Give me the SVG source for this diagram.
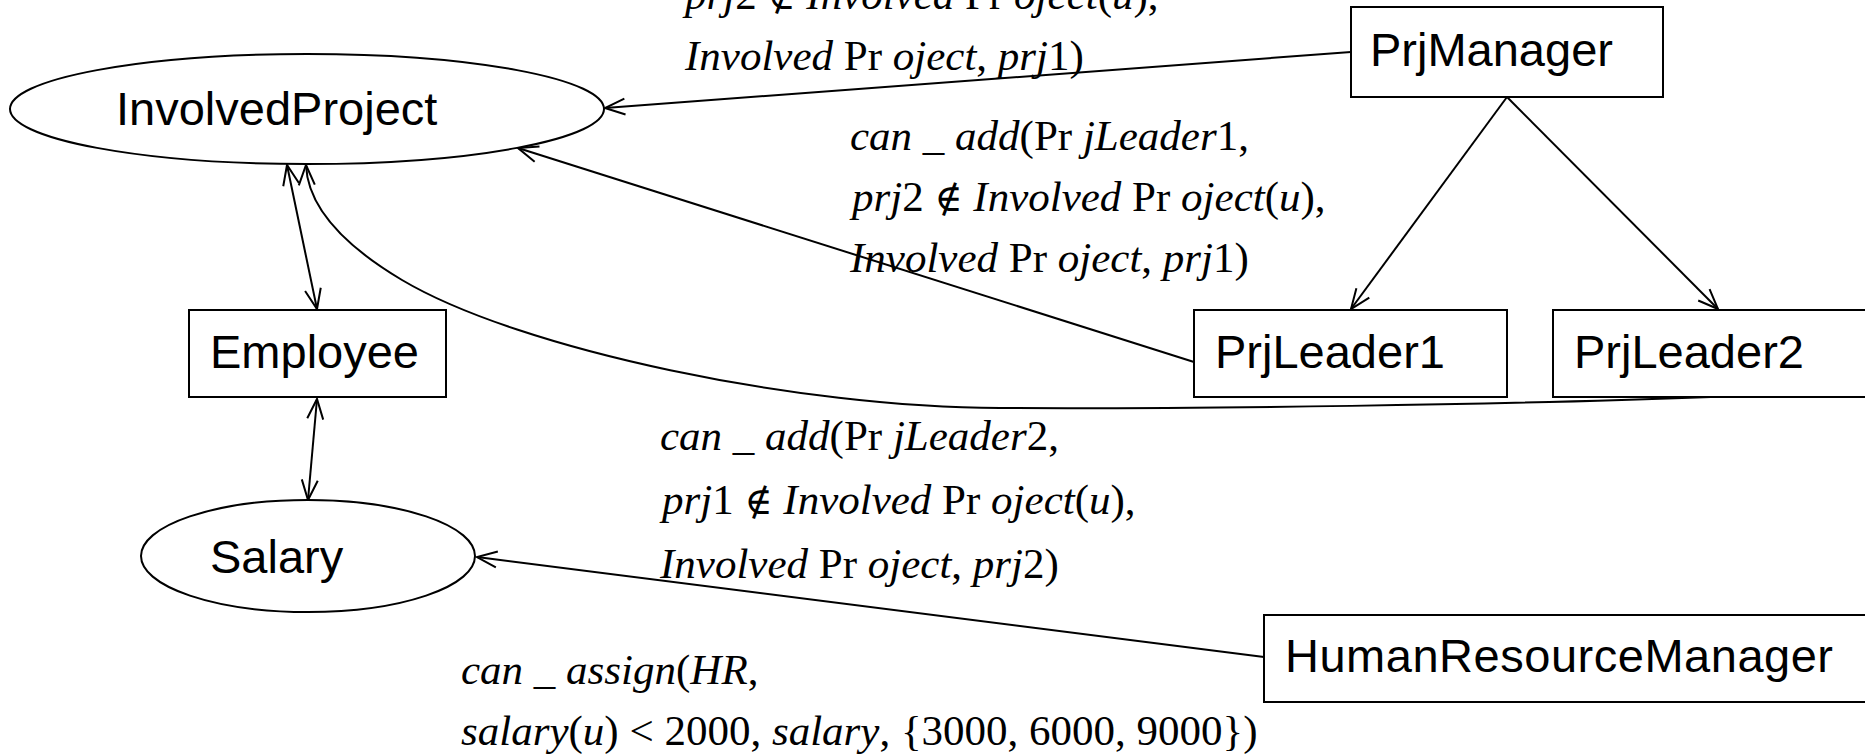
<svg xmlns="http://www.w3.org/2000/svg" width="1865" height="756" viewBox="0 0 1865 756">
  <style>
    .shape { fill: #fff; stroke: #000; stroke-width: 2; }
    .name { font-family: "Liberation Sans", Arial, sans-serif; font-size: 47px; fill: #000; }
    .edge { fill: none; stroke: #000; stroke-width: 2; }
    .math { font-family: "Liberation Serif", "DejaVu Serif", serif; font-size: 43px; fill: #000; }
    .i { font-style: italic; }
    .op { font-family: "DejaVu Sans", "DejaVu Serif", sans-serif; font-weight: 200; font-size: 38px; }
  </style>
  <defs>
    <marker id="arrow" viewBox="-24 -12 28 24" refX="0" refY="0" markerWidth="28" markerHeight="24" markerUnits="userSpaceOnUse" orient="auto-start-reverse" overflow="visible">
      <path d="M-20,-8 L0,0 L-20,8" fill="none" stroke="#000" stroke-width="2"/>
    </marker>
  </defs>
  <rect width="1865" height="756" fill="#fff"/>

  <!-- connectors -->
  <g id="connectors">
    <line class="edge" x1="1351" y1="52" x2="605" y2="108" marker-end="url(#arrow)"/>
    <line class="edge" x1="1194" y1="362" x2="518" y2="148" marker-end="url(#arrow)"/>
    <path class="edge" d="M1711,397 C1500,405 1200,409 1000,408 C800,408 520,350 402,280 C360,255 308,215 306,165" marker-end="url(#arrow)"/>
    <line class="edge" x1="317" y1="309" x2="287" y2="165" marker-start="url(#arrow)" marker-end="url(#arrow)"/>
    <line class="edge" x1="317" y1="399" x2="308" y2="500" marker-start="url(#arrow)" marker-end="url(#arrow)"/>
    <line class="edge" x1="1507" y1="97" x2="1351" y2="309" marker-end="url(#arrow)"/>
    <line class="edge" x1="1507" y1="97" x2="1718" y2="309" marker-end="url(#arrow)"/>
    <line class="edge" x1="1264" y1="657" x2="477" y2="557" marker-end="url(#arrow)"/>
  </g>

  <!-- nodes -->
  <g id="involved-project">
    <ellipse class="shape" cx="307" cy="109" rx="297" ry="55"/>
    <text class="name" x="116" y="125">InvolvedProject</text>
  </g>
  <g id="employee">
    <rect class="shape" x="189" y="310" width="257" height="87"/>
    <text class="name" x="210" y="368">Employee</text>
  </g>
  <g id="salary">
    <ellipse class="shape" cx="308" cy="556" rx="167" ry="56"/>
    <text class="name" x="210" y="573">Salary</text>
  </g>
  <g id="prj-manager">
    <rect class="shape" x="1351" y="7" width="312" height="90"/>
    <text class="name" x="1370" y="66">PrjManager</text>
  </g>
  <g id="prj-leader1">
    <rect class="shape" x="1194" y="310" width="313" height="87"/>
    <text class="name" x="1215" y="368">PrjLeader1</text>
  </g>
  <g id="prj-leader2">
    <rect class="shape" x="1553" y="310" width="330" height="87"/>
    <text class="name" x="1574" y="368">PrjLeader2</text>
  </g>
  <g id="hr-manager">
    <rect class="shape" x="1264" y="615" width="620" height="87"/>
    <text class="name" x="1285" y="672" textLength="548">HumanResourceManager</text>
  </g>

  <!-- rule labels -->
  <g id="labels" class="math">
    <text x="685" y="9"><tspan class="i">prj</tspan>2 <tspan class="op">∉</tspan> <tspan class="i">Involved</tspan> Pr <tspan class="i">oject</tspan>(<tspan class="i">u</tspan>),</text>
    <text x="685" y="70"><tspan class="i">Involved</tspan> Pr <tspan class="i">oject</tspan>, <tspan class="i">prj</tspan>1)</text>

    <text x="850" y="150"><tspan class="i">can</tspan> _ <tspan class="i">add</tspan>(Pr <tspan class="i">jLeader</tspan>1,</text>
    <text x="852" y="211"><tspan class="i">prj</tspan>2 <tspan class="op">∉</tspan> <tspan class="i">Involved</tspan> Pr <tspan class="i">oject</tspan>(<tspan class="i">u</tspan>),</text>
    <text x="850" y="272"><tspan class="i">Involved</tspan> Pr <tspan class="i">oject</tspan>, <tspan class="i">prj</tspan>1)</text>

    <text x="660" y="450"><tspan class="i">can</tspan> _ <tspan class="i">add</tspan>(Pr <tspan class="i">jLeader</tspan>2,</text>
    <text x="662" y="514"><tspan class="i">prj</tspan>1 <tspan class="op">∉</tspan> <tspan class="i">Involved</tspan> Pr <tspan class="i">oject</tspan>(<tspan class="i">u</tspan>),</text>
    <text x="660" y="578"><tspan class="i">Involved</tspan> Pr <tspan class="i">oject</tspan>, <tspan class="i">prj</tspan>2)</text>

    <text x="461" y="684"><tspan class="i">can</tspan> _ <tspan class="i">assign</tspan>(<tspan class="i">HR</tspan>,</text>
    <text x="461" y="745"><tspan class="i">salary</tspan>(<tspan class="i">u</tspan>) &lt; 2000, <tspan class="i">salary</tspan>, {3000, 6000, 9000})</text>
  </g>
</svg>
